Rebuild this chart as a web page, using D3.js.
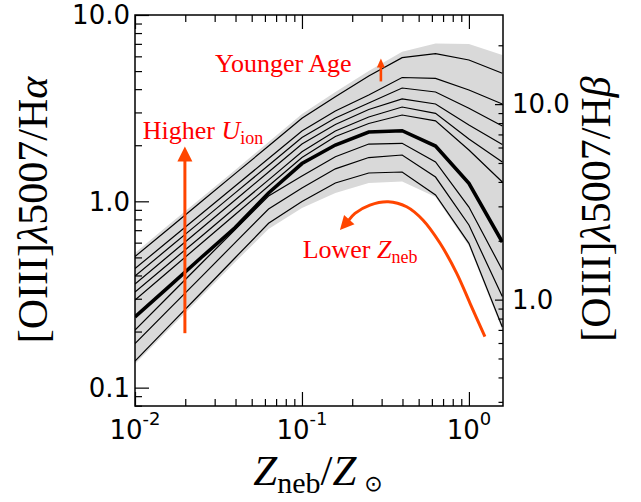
<!DOCTYPE html>
<html><head><meta charset="utf-8">
<script src="https://cdn.jsdelivr.net/npm/d3@7"></script>
<style>body{margin:0;background:#fff}</style>
</head><body>
<svg id="c" width="641" height="502" xmlns="http://www.w3.org/2000/svg"></svg>
<script>
// ---- data ----
const zGrid = [0.01, 0.01585, 0.02512, 0.03981, 0.0631, 0.1, 0.1585, 0.2512, 0.3981, 0.631, 1.0, 1.585];
const line1 = [0.5055, 0.711, 1.0, 1.408, 1.981, 2.790, 3.644, 4.705, 5.900, 6.199, 5.735, 4.865];
const line2 = [0.4357, 0.6121, 0.8602, 1.208, 1.697, 2.384, 3.053, 3.720, 4.618, 4.573, 3.957, 3.330];
const line3 = [0.3972, 0.5596, 0.7878, 1.110, 1.562, 2.200, 2.800, 3.371, 4.056, 3.861, 3.157, 2.536];
const line4 = [0.3598, 0.5087, 0.7190, 1.016, 1.437, 2.030, 2.584, 3.110, 3.549, 3.330, 2.568, 2.018];
const line5 = [0.3260, 0.4613, 0.6521, 0.9229, 1.304, 1.846, 2.384, 2.835, 3.208, 2.968, 2.160, 1.626];
const line6 = [0.2953, 0.4200, 0.5973, 0.8494, 1.208, 1.718, 2.227, 2.616, 2.905, 2.704, 1.885, 1.269];
const lineRef = [0.2393, 0.3467, 0.5023, 0.7234, 1.108, 1.595, 2.005, 2.355, 2.393, 1.981, 1.249, 0.6047];
const line8 = [0.2038, 0.3083, 0.4665, 0.7058, 1.068, 1.367, 1.735, 2.030, 2.048, 1.626, 0.932, 0.4278];
const line9 = [0.1725, 0.2613, 0.3958, 0.6002, 0.9093, 1.179, 1.494, 1.718, 1.772, 1.350, 0.746, 0.3083];
const line10 = [0.1389, 0.2126, 0.3252, 0.4980, 0.7619, 0.9975, 1.254, 1.419, 1.437, 1.081, 0.5951, 0.2115];
const bandUpper = [0.528, 0.746, 1.048, 1.472, 2.081, 2.942, 3.861, 5.006, 6.353, 7.031, 6.988, 6.100];
const bandLower = [0.1338, 0.2038, 0.3102, 0.4722, 0.7102, 0.9205, 1.108, 1.254, 1.277, 1.055, 0.5755, 0.2038];

const xDomain = [0.01, 1.6];
const yLeftDomain = [0.0797, 10];
const yRightDomain = [0.2857, 28.57];
const xTickValues = [0.01, 0.1, 1];
const xTickExps = ["-2", "-1", "0"];
const yLeftTickValues = [0.1, 1, 10];
const yLeftTickLabels = ["0.1", "1.0", "10.0"];
const yRightTickValues = [1, 10];
const yRightTickLabels = ["1.0", "10.0"];

// annotations (data coordinates)
const ageArrowZ = [0.297, 0.297];
const ageArrowY = [4.40, 5.85];
const uArrowZ = [0.0199, 0.0199];
const uArrowY = [0.196, 1.97];
const arcZ = [1.247, 1.014, 0.844, 0.6705, 0.530, 0.4236, 0.3286, 0.2553, 0.2077, 0.1688];
const arcY = [0.1876, 0.2845, 0.412, 0.597, 0.794, 0.935, 0.995, 0.955, 0.862, 0.701];
const noteZ = [0.0301, 0.01112, 0.101];
const noteY = [4.96, 2.151, 0.4943];

// ---- drawing ----
const X0 = 135, X1 = 503, Y0 = 15, Y1 = 406;
const svg = d3.select("#c");
const x = d3.scaleLog().domain(xDomain).range([X0, X1]);
const yL = d3.scaleLog().domain(yLeftDomain).range([Y1, Y0]);
const yR = d3.scaleLog().domain(yRightDomain).range([Y1, Y0]);

svg.append("defs").append("clipPath").attr("id", "clip")
  .append("rect").attr("x", X0).attr("y", Y0).attr("width", X1 - X0).attr("height", Y1 - Y0);
const plot = svg.append("g").attr("clip-path", "url(#clip)");

const area = d3.area().x((d, i) => x(zGrid[i])).y0((d, i) => yL(bandLower[i])).y1(d => yL(d));
plot.append("path").datum(bandUpper).attr("d", area).attr("fill", "#d9d9d9");

const line = d3.line().x((d, i) => x(zGrid[i])).y(d => yL(d));
const thin = [line1, line2, line3, line4, line5, line6, line8, line9, line10];
thin.forEach(s => plot.append("path").datum(s).attr("d", line)
  .attr("fill", "none").attr("stroke", "#000").attr("stroke-width", 1.2).attr("stroke-linejoin", "miter"));
plot.append("path").datum(lineRef).attr("d", line)
  .attr("fill", "none").attr("stroke", "#000").attr("stroke-width", 3.6);

// arrows
const ORANGE = "#ff4500";
function head(g, tip, from, len, wid) {
  const dx = tip[0] - from[0], dy = tip[1] - from[1];
  const L = Math.hypot(dx, dy), ux = dx / L, uy = dy / L;
  const bx = tip[0] - ux * len, by = tip[1] - uy * len;
  g.append("polygon").attr("points",
    [[tip[0], tip[1]], [bx - uy * wid / 2, by + ux * wid / 2], [bx + uy * wid / 2, by - ux * wid / 2]].map(p => p.join(",")).join(" "))
    .attr("fill", ORANGE);
  return [bx + ux * 1, by + uy * 1];
}
function straightArrow(zs, ys, len, wid, sw) {
  const p0 = [x(zs[0]), yL(ys[0])], p1 = [x(zs[1]), yL(ys[1])];
  const base = head(svg, p1, p0, len, wid);
  svg.append("line").attr("x1", p0[0]).attr("y1", p0[1]).attr("x2", base[0]).attr("y2", base[1])
    .attr("stroke", ORANGE).attr("stroke-width", sw);
}
straightArrow(ageArrowZ, ageArrowY, 9, 8, 2.6);
straightArrow(uArrowZ, uArrowY, 15, 15, 3);

const arcPts = arcZ.map((z, i) => [x(z), yL(arcY[i])]);
const n = arcPts.length;
const arcBase = head(svg, arcPts[n - 1], arcPts[n - 2], 14, 14);
svg.append("path").datum(arcPts.slice(0, n - 1).concat([arcBase]))
  .attr("d", d3.line().curve(d3.curveCatmullRom.alpha(0.5)))
  .attr("fill", "none").attr("stroke", ORANGE).attr("stroke-width", 3);

// annotation texts
const SERIF = "'Liberation Serif', 'Times New Roman', serif";
function note(i) {
  return svg.append("text").attr("x", x(noteZ[i])).attr("y", yL(noteY[i]))
    .attr("font-family", SERIF).attr("font-size", 26).attr("fill", "#ff0000");
}
note(0).text("Younger Age");
const t1 = note(1);
t1.append("tspan").text("Higher ");
t1.append("tspan").attr("font-style", "italic").text("U");
t1.append("tspan").attr("font-size", 18).attr("dy", 5).text("ion");
const t2 = note(2);
t2.append("tspan").text("Lower ");
t2.append("tspan").attr("font-style", "italic").text("Z");
t2.append("tspan").attr("font-size", 18).attr("dy", 5).text("neb");

// axes (ticks inward)
const xMinor = x.ticks().filter(v => !xTickValues.includes(v));
const yLMinor = yL.ticks().filter(v => !yLeftTickValues.some(t => Math.abs(t - v) < 1e-9));
const yRMinor = yR.ticks().filter(v => !yRightTickValues.some(t => Math.abs(t - v) < 1e-9));

function addAxis(gen, tx, ty, vals, size) {
  const g = svg.append("g").attr("transform", `translate(${tx},${ty})`)
    .call(gen.tickValues(vals).tickSize(-size).tickFormat(""));
  g.select(".domain").remove();
  g.selectAll("line").attr("stroke", "#000").attr("stroke-width", 1.2);
}
addAxis(d3.axisBottom(x), 0, Y1, xTickValues, 14);
addAxis(d3.axisBottom(x), 0, Y1, xMinor, 7);
addAxis(d3.axisTop(x), 0, Y0, xTickValues, 14);
addAxis(d3.axisTop(x), 0, Y0, xMinor, 7);
addAxis(d3.axisLeft(yL), X0, 0, yLeftTickValues, 14);
addAxis(d3.axisLeft(yL), X0, 0, yLMinor, 7);
addAxis(d3.axisRight(yR), X1, 0, yRightTickValues, 8);
addAxis(d3.axisRight(yR), X1, 0, yRMinor, 4.5);

svg.append("rect").attr("x", X0).attr("y", Y0).attr("width", X1 - X0).attr("height", Y1 - Y0)
  .attr("fill", "none").attr("stroke", "#000").attr("stroke-width", 1.5);

// tick labels
const SANS = "'DejaVu Sans', sans-serif";
xTickValues.forEach((v, i) => {
  const t = svg.append("text").attr("x", x(v)).attr("y", 439).attr("text-anchor", "middle")
    .attr("font-family", SANS).attr("font-size", 26).attr("fill", "#000");
  t.append("tspan").text("10");
  t.append("tspan").attr("font-size", 18).attr("dy", -14).text(xTickExps[i]);
});
yLeftTickValues.forEach((v, i) => {
  svg.append("text").attr("x", X0 - 5).attr("y", yL(v)).attr("dy", "0.36em").attr("text-anchor", "end")
    .attr("font-family", SANS).attr("font-size", 26).attr("fill", "#000").text(yLeftTickLabels[i]);
});
yRightTickValues.forEach((v, i) => {
  svg.append("text").attr("x", X1 + 9).attr("y", yR(v)).attr("dy", "0.36em").attr("text-anchor", "start")
    .attr("font-family", SANS).attr("font-size", 26).attr("fill", "#000").text(yRightTickLabels[i]);
});

// axis titles
function yTitle(xpos, ypos, greek) {
  const t = svg.append("text").attr("transform", `translate(${xpos},${ypos}) rotate(-90)`)
    .attr("text-anchor", "middle").attr("font-family", SERIF).attr("font-size", 42).attr("fill", "#000");
  t.append("tspan").text("[OIII]");
  t.append("tspan").attr("font-style", "italic").text("λ");
  t.append("tspan").text("5007/H");
  t.append("tspan").attr("font-style", "italic").text(greek);
}
yTitle(47, 210, "α");
yTitle(610, 209, "β");

const xt = svg.append("text").attr("x", 318).attr("y", 485).attr("text-anchor", "middle")
  .attr("font-family", SERIF).attr("font-size", 43).attr("fill", "#000");
xt.append("tspan").attr("font-style", "italic").text("Z");
xt.append("tspan").attr("font-size", 30).attr("dy", 8).text("neb");
xt.append("tspan").attr("dy", -8).text("/");
xt.append("tspan").attr("font-style", "italic").text("Z");
xt.append("tspan").attr("font-family", "'DejaVu Sans', sans-serif").attr("font-size", 22).attr("dy", 6).attr("dx", 8).text("⊙");
</script>
</body></html>
